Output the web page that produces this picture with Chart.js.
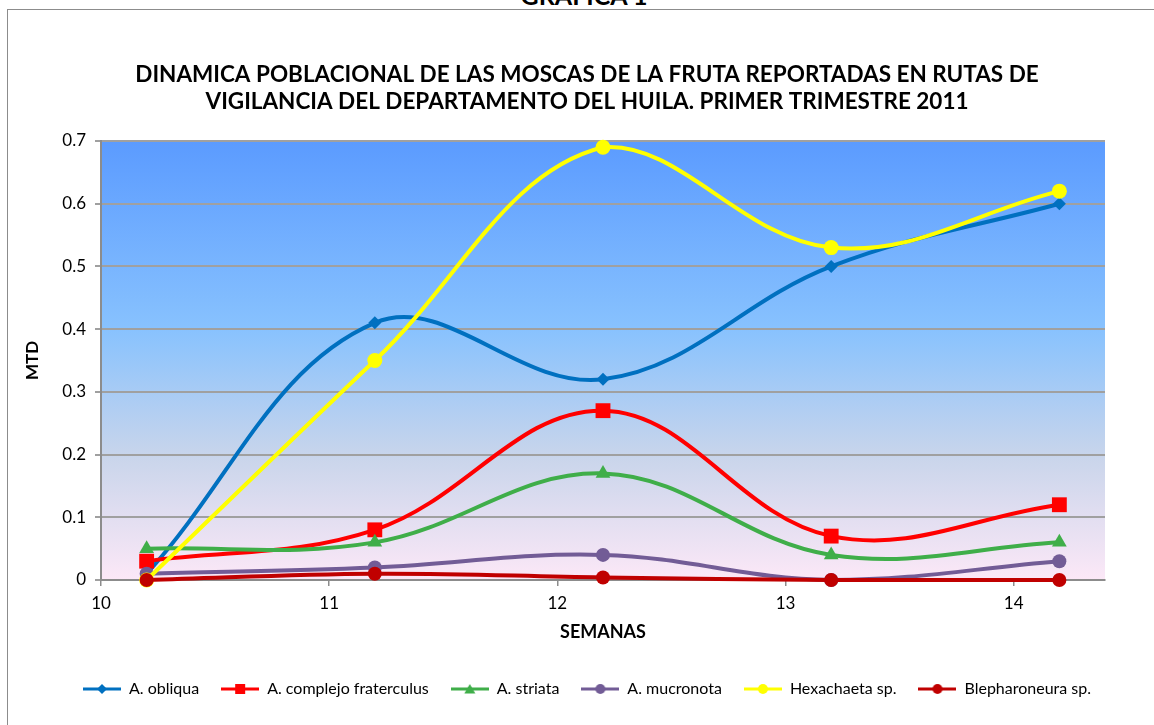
<!DOCTYPE html>
<html>
<head>
<meta charset="utf-8">
<script src="https://cdn.jsdelivr.net/npm/chart.js@4.4.1/dist/chart.umd.min.js"></script>
<style>
    html, body { margin: 0; padding: 0; background: #fff; }
    #wrap { position: relative; width: 1154px; height: 725px; overflow: hidden; }
    #heading {
        position: absolute; left: 0; width: 1154px; top: -17px;
        text-align: center; font: bold 25px Lato, sans-serif; line-height: 24px; color: #000;
        padding-left: 14px; box-sizing: border-box;
    }
    #frame {
        position: absolute; left: 7px; top: 9px; right: -10px; bottom: -10px;
        border-top: 1.5px solid #8c8c8c; border-left: 1.5px solid #8c8c8c;
    }
    canvas { position: absolute; left: 0; top: 0; }
</style>
</head>
<body>
<div id="wrap">
    <div id="heading">GRAFICA 1</div>
    <div id="frame"></div>
    <canvas id="moscasChart" width="1154" height="725"></canvas>
</div>
<script>
// Semanas (eje X) y MTD por especie
const semanas = [10.2, 11.2, 12.2, 13.2, 14.2];
const obliqua = [0.01, 0.41, 0.32, 0.50, 0.60];
const fraterculus = [0.03, 0.08, 0.27, 0.07, 0.12];
const striata = [0.05, 0.06, 0.17, 0.04, 0.06];
const mucronota = [0.01, 0.02, 0.04, 0.0, 0.03];
const hexachaeta = [0.0, 0.35, 0.69, 0.53, 0.62];
const blepharoneura = [0.0, 0.01, 0.004, 0.0, 0.0];

const seriesNames = ['A. obliqua', 'A. complejo fraterculus', 'A. striata', 'A. mucronota', 'Hexachaeta sp.', 'Blepharoneura sp.'];
const xTickValues = [10, 11, 12, 13, 14];

const seriesStyle = [
    { color: '#0070C0', marker: 'rectRot', radius: 6.5 },
    { color: '#FF0000', marker: 'rect', radius: 10.5 },
    { color: '#3FAE49', marker: 'triangle', radius: 8.5 },
    { color: '#725C96', marker: 'circle', radius: 7 },
    { color: '#FFFF00', marker: 'circle', radius: 7.5 },
    { color: '#C00000', marker: 'circle', radius: 7 }
];

const seriesValues = [obliqua, fraterculus, striata, mucronota, hexachaeta, blepharoneura];

// small canvas with line + marker for the legend
function legendIcon(color, marker) {
    const c = document.createElement('canvas');
    c.width = 38;
    c.height = 14;
    const g = c.getContext('2d');
    g.strokeStyle = color;
    g.lineWidth = 3;
    g.beginPath();
    g.moveTo(0, 7);
    g.lineTo(38, 7);
    g.stroke();
    g.fillStyle = color;
    g.beginPath();
    if (marker === 'rectRot') {
        g.moveTo(19, 2); g.lineTo(24, 7); g.lineTo(19, 12); g.lineTo(14, 7);
    } else if (marker === 'rect') {
        g.rect(14, 2, 10, 10);
    } else if (marker === 'triangle') {
        g.moveTo(19, 2); g.lineTo(24.5, 11.5); g.lineTo(13.5, 11.5);
    } else {
        g.arc(19, 7, 5, 0, Math.PI * 2);
    }
    g.closePath();
    g.fill();
    return c;
}

const legendIcons = seriesStyle.map(s => legendIcon(s.color, s.marker));

const datasets = seriesNames.map((name, i) => ({
    label: name,
    data: semanas.map((x, j) => ({ x: x, y: seriesValues[i][j] })),
    showLine: true,
    borderColor: seriesStyle[i].color,
    backgroundColor: seriesStyle[i].color,
    borderWidth: 4,
    tension: 0.38,
    pointStyle: seriesStyle[i].marker,
    pointRadius: seriesStyle[i].radius,
    pointBorderWidth: 0,
    pointBackgroundColor: seriesStyle[i].color,
    clip: false,
    order: seriesNames.length - i
}));

// gradient fill behind the plot area
const plotBackground = {
    id: 'plotBackground',
    beforeDraw(chart) {
        const { ctx, chartArea: a } = chart;
        const grad = ctx.createLinearGradient(0, a.top, 0, a.bottom);
        grad.addColorStop(0, '#5B9BFF');
        grad.addColorStop(0.43, '#88C2FE');
        grad.addColorStop(0.72, '#C9D5EB');
        grad.addColorStop(1, '#FCE8F7');
        ctx.save();
        ctx.fillStyle = grad;
        ctx.fillRect(a.left, a.top, a.right - a.left, a.bottom - a.top);
        ctx.restore();
    }
};

const baseFont = 'Lato, "Open Sans", sans-serif';

new Chart(document.getElementById('moscasChart'), {
    type: 'scatter',
    data: { datasets: datasets },
    plugins: [plotBackground],
    options: {
        responsive: false,
        animation: false,
        events: [],
        layout: { padding: { top: 0, left: 20, right: 0, bottom: 18 } },
        plugins: {
            title: {
                display: true,
                text: ['DINAMICA POBLACIONAL DE LAS MOSCAS DE LA FRUTA REPORTADAS EN RUTAS DE',
                       'VIGILANCIA DEL DEPARTAMENTO DEL HUILA. PRIMER TRIMESTRE 2011'],
                color: '#000',
                font: { family: baseFont, size: 22.5, weight: 'bold', lineHeight: 1.2 },
                padding: { top: 61, bottom: 26 }
            },
            legend: {
                position: 'bottom',
                labels: {
                    color: '#000',
                    font: { family: baseFont, size: 16 },
                    usePointStyle: true,
                    pointStyleWidth: 38,
                    boxHeight: 14,
                    padding: 22,
                    generateLabels: () => seriesNames.map((name, i) => ({
                        text: name,
                        pointStyle: legendIcons[i],
                        fillStyle: seriesStyle[i].color,
                        strokeStyle: seriesStyle[i].color,
                        lineWidth: 0,
                        datasetIndex: i
                    }))
                }
            },
            tooltip: { enabled: false }
        },
        scales: {
            x: {
                type: 'linear',
                min: 10,
                max: 14.4,
                afterFit(scale) { scale.height = 79; },
                afterBuildTicks(scale) { scale.ticks = xTickValues.map(v => ({ value: v })); },
                ticks: { color: '#000', font: { family: baseFont, size: 17 }, padding: 7, includeBounds: false },
                grid: { drawOnChartArea: false, drawTicks: true, tickLength: 6, color: '#8c8c8c', lineWidth: 1.5 },
                border: { display: true, color: '#8c8c8c', width: 2 },
                title: {
                    display: true,
                    text: 'SEMANAS',
                    color: '#000',
                    font: { family: baseFont, size: 18, weight: 'bold' },
                    padding: { top: 4, bottom: 16 }
                }
            },
            y: {
                min: 0,
                max: 0.7,
                afterFit(scale) { scale.width = 81; },
                ticks: { stepSize: 0.1, color: '#000', font: { family: baseFont, size: 17 }, padding: 9 },
                grid: { color: '#a0a0a0', lineWidth: 2, tickLength: 6 },
                border: { display: true, color: '#8c8c8c', width: 2 },
                title: {
                    display: true,
                    text: 'MTD',
                    color: '#000',
                    font: { family: baseFont, size: 17, weight: 'bold' },
                    padding: { top: 2, bottom: 0 }
                }
            },
            y2: {
                position: 'right',
                display: true,
                afterFit(scale) { scale.width = 49; },
                ticks: { display: false },
                grid: { display: false },
                border: { display: false }
            }
        }
    }
});
</script>
</body>
</html>
